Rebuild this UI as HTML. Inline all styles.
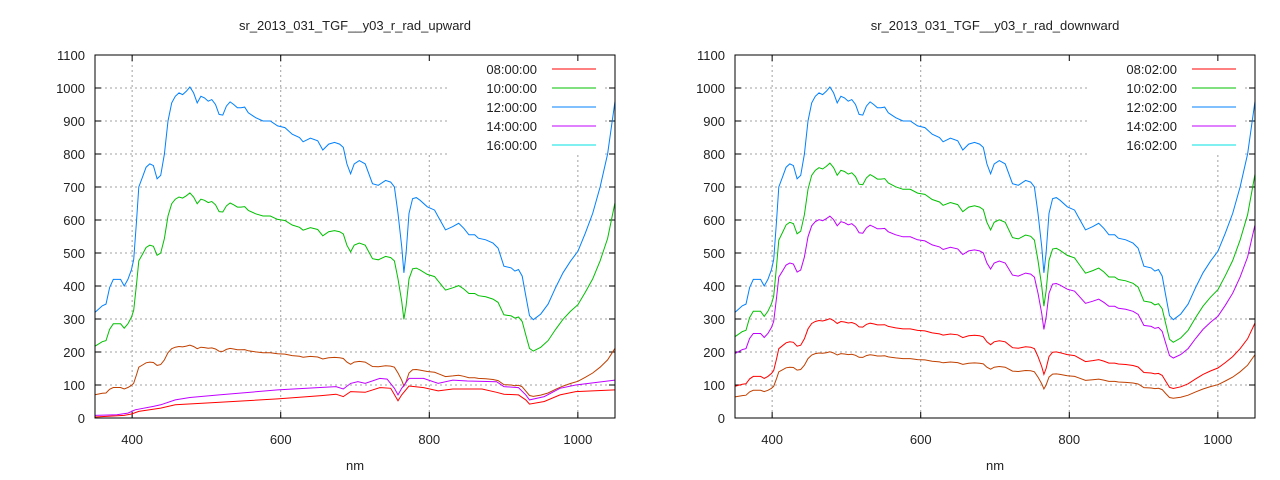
<!DOCTYPE html>
<html><head><meta charset="utf-8"><style>
html,body{margin:0;padding:0;background:#fff}
svg{display:block}
text{font-family:"Liberation Sans",sans-serif;font-size:13px;fill:#222}
</style></head><body>
<svg id="s" width="1280" height="480" xmlns="http://www.w3.org/2000/svg"></svg>
<script>
const tf=a=>a.map(p=>[p[0]<=945?350+(p[0]-350)*0.983:939+(p[0]-945)*111/105,p[1]]);
let blueHead=[[350,320],[360,340],[365,345],[370,395],[375,420],[380,420],[385,420],[390,400],[395,420],[400,450],[403,480],[407,600],[410,700],[415,730],[420,760],[425,770],[430,765],[435,725],[440,735],[445,800],[450,900],[455,955],[460,975],[465,985],[470,980],[475,990],[480,1003],[485,985],[490,955],[495,975],[500,970],[505,960],[510,965],[515,950],[520,920],[525,918],[530,945],[535,958],[540,950],[545,940],[550,940],[555,942],[560,925],[570,910],[580,900],[590,900],[600,885],[610,880],[620,860],[630,850],[635,837],[645,848],[655,840],[662,812],[670,830],[678,835],[685,830],[690,820],[695,770],[700,740],[705,770],[712,780],[720,770],[730,710],[738,705],[748,720],[755,715],[760,700],[765,620],[770,520],[773,440],[776,500],[780,620],[785,665],[790,668],[795,660],[805,640],[815,630],[820,610],[830,570],[840,580],[848,590],[855,575],[862,555],[870,555],[875,545],[885,540],[895,530],[902,515],[910,460],[920,455],[925,445],[930,450],[935,430],[940,370],[945,310]];
const blue=tf(blueHead).concat([[940,298],[950,315],[960,345],[970,395],[980,440],[990,475],[1000,505],[1010,560],[1020,620],[1030,700],[1040,800],[1050,960]]);
const purpL=tf([[350,8],[380,10],[395,15],[405,25],[430,35],[440,40],[460,55],[480,62],[520,70],[600,85],[680,95],[690,88],[700,105],[710,110],[720,105],[740,120],[750,118],[760,90],[765,70],[770,90],[780,120],[800,120],[820,105],[840,115],[860,112],[900,110],[910,95],[930,92],[940,70],[945,55],[960,65],[980,90],[1000,100],[1050,115]]);
const redL=tf([[350,3],[390,8],[400,12],[410,20],[440,30],[460,40],[500,45],[600,58],[660,68],[680,72],[690,65],[700,80],[720,78],[740,92],[755,90],[765,52],[770,70],[780,97],[800,92],[820,82],[840,88],[880,88],[900,78],[910,72],[930,70],[940,55],[945,42],[960,50],[980,70],[1000,80],[1050,85]]);
const sc=k=>blue.map(p=>[p[0],p[1]*k]);
const s=document.getElementById('s');let h='';
function chart(x0,title,labs,series){
 const x1=x0+520,y0=55,y1=418;
 const X=v=>x0+(v-350)*520/700,Y=v=>y1-v*(y1-y0)/1100;
 h+=`<text x="${x0+260}" y="30" text-anchor="middle">${title}</text>`;
 for(let v=0;v<=1100;v+=100){const y=Y(v);
  if(v>0&&v<1100){h+=`<line x1="${x0}" x2="${v>=800?x0+355:x1}" y1="${y}" y2="${y}" stroke="#a0a0a0" stroke-dasharray="2,3"/>`;
   if(v>=800)h+=`<line x1="${x1-10}" x2="${x1}" y1="${y}" y2="${y}" stroke="#a0a0a0" stroke-dasharray="2,3"/>`;}
  h+=`<line x1="${x0}" x2="${x0+6}" y1="${y}" y2="${y}" stroke="#000"/><line x1="${x1-6}" x2="${x1}" y1="${y}" y2="${y}" stroke="#000"/>`;
  h+=`<text x="${x0-10}" y="${y+5}" text-anchor="end">${v}</text>`;}
 for(const v of [400,600,800,1000]){const x=X(v);
  h+=`<line x1="${x}" x2="${x}" y1="${v>=800?y0+100:y0}" y2="${y1}" stroke="#a0a0a0" stroke-dasharray="2,3"/>`;
  h+=`<line x1="${x}" x2="${x}" y1="${y1}" y2="${y1-6}" stroke="#000"/><line x1="${x}" x2="${x}" y1="${y0}" y2="${y0+6}" stroke="#000"/>`;
  h+=`<text x="${x}" y="${y1+26}" text-anchor="middle">${v}</text>`;}
 h+=`<text x="${x0+260}" y="470" text-anchor="middle">nm</text>`;
 for(const [d,c] of series){h+=`<polyline fill="none" stroke="${c}" stroke-width="1" points="${d.map(p=>X(p[0]).toFixed(1)+','+Y(p[1]).toFixed(1)).join(' ')}"/>`;}
 const cols=['#ff0000','#00c000','#0080ff','#c000ff','#00e0e0'];
 labs.forEach((l,i)=>{const y=69+i*19;h+=`<text x="${x0+442}" y="${y+5}" text-anchor="end">${l}</text><line x1="${x0+457}" x2="${x0+501}" y1="${y}" y2="${y}" stroke="${cols[i]}"/>`;});
 h+=`<rect x="${x0}" y="${y0}" width="520" height="363" fill="none" stroke="#000"/>`;
}
chart(95,'sr_2013_031_TGF__y03_r_rad_upward',['08:00:00','10:00:00','12:00:00','14:00:00','16:00:00'],
 [[sc(0.22),'#c04000'],[redL,'#ff0000'],[purpL,'#c000ff'],[sc(0.68),'#00c000'],[blue,'#0080ff']]);
chart(735,'sr_2013_031_TGF__y03_r_rad_downward',['08:02:00','10:02:00','12:02:00','14:02:00','16:02:00'],
 [[sc(0.2),'#c04000'],[sc(0.3),'#ff0000'],[sc(0.61),'#c000ff'],[sc(0.77),'#00c000'],[blue,'#0080ff']]);
s.innerHTML=h;
</script>
</body></html>
